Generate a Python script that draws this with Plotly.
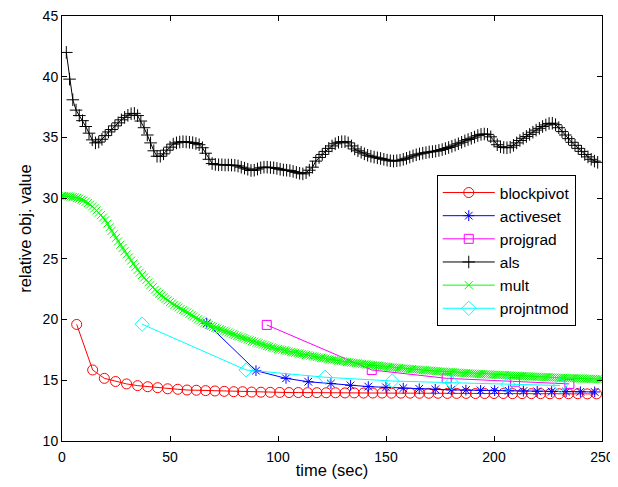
import plotly.graph_objects as go

# ---------------- data ----------------
bp_t = [6.8, 14.2, 19.6, 24.8, 29.9, 35.0, 39.7, 44.3, 48.9, 53.6, 57.9, 62.2, 66.5, 70.8, 75.1, 79.5, 83.6,
        87.8, 92.1, 96.4, 100.8, 105.1, 109.4, 113.7, 118.0, 122.3, 126.6, 131.0, 135.3, 139.6, 143.9, 148.2,
        152.5, 156.9, 161.2, 165.5, 169.8, 174.1, 178.4, 182.7, 187.1, 191.4, 195.7, 200.0, 204.3, 208.6,
        213.0, 217.3, 221.6, 225.9, 230.2, 234.5, 238.8, 243.2, 247.5]
bp_v = [19.6, 15.85, 15.16, 14.9, 14.7, 14.56, 14.47, 14.39, 14.3, 14.26, 14.2, 14.18, 14.15, 14.12, 14.09, 14.06, 14.06,
        14.03, 14.02, 14.01, 14.00, 13.99, 13.99, 13.98, 13.98, 13.97, 13.97, 13.96, 13.96, 13.95, 13.95, 13.95,
        13.94, 13.94, 13.94, 13.93, 13.93, 13.93, 13.92, 13.92, 13.92, 13.91, 13.91, 13.91, 13.91, 13.90,
        13.90, 13.90, 13.90, 13.89, 13.89, 13.89, 13.89, 13.88, 13.88]

as_t = [67.0, 89.8, 103.7, 114.0, 124.5, 133.6, 141.8, 150.0, 158.0, 165.4, 172.8, 180.2, 187.0, 193.8,
        200.3, 206.8, 213.6, 220.0, 226.7, 233.4, 240.0, 246.6]
as_v = [19.7, 15.79, 15.16, 14.88, 14.73, 14.58, 14.48, 14.42, 14.35, 14.30, 14.25, 14.21, 14.19, 14.17,
        14.15, 14.13, 14.11, 14.09, 14.07, 14.06, 14.05, 14.04]

pg_t = [94.8, 143.4, 178.1, 209.7, 234.9]
pg_v = [19.56, 15.85, 15.16, 14.88, 14.70]

pn_t = [37.1, 85.2, 121.8, 152.9, 180.5, 206.5, 230.6]
pn_v = [19.62, 15.85, 15.25, 14.94, 14.80, 14.66, 14.57]

als_v = [42.0, 39.8, 38.1, 37.25, 36.8, 36.38, 35.9, 35.35, 34.8, 34.55,
         34.62, 34.85, 35.15, 35.45, 35.65, 35.95, 36.2, 36.45, 36.65, 36.82,
         36.95, 36.98, 36.8, 36.35, 35.8, 35.2, 34.55, 33.9, 33.45, 33.45,
         33.65, 33.95, 34.2, 34.45, 34.55, 34.62, 34.65, 34.63, 34.6, 34.57,
         34.5, 34.4, 34.15, 33.7, 33.2, 32.85, 32.78, 32.75, 32.75, 32.73,
         32.73, 32.72, 32.7, 32.65, 32.55, 32.47, 32.38, 32.28, 32.3, 32.4,
         32.5, 32.55, 32.55, 32.52, 32.5, 32.45, 32.38, 32.32, 32.3, 32.27,
         32.2, 32.12, 32.05, 32.0, 32.1, 32.3, 32.55, 33.05, 33.35, 33.6,
         33.85, 34.1, 34.3, 34.48, 34.6, 34.65, 34.65, 34.55, 34.3, 34.05,
         33.9, 33.78, 33.65, 33.53, 33.45, 33.38, 33.32, 33.27, 33.2, 33.13,
         33.08, 33.05, 33.08, 33.12, 33.2, 33.28, 33.38, 33.48, 33.57, 33.64,
         33.7, 33.75, 33.8, 33.83, 33.87, 33.93, 34.0, 34.08, 34.17, 34.27,
         34.37, 34.48, 34.6, 34.72, 34.83, 34.93, 35.03, 35.15, 35.25, 35.28,
         35.25, 35.05, 34.7, 34.4, 34.23, 34.17, 34.15, 34.2, 34.35, 34.55,
         34.75, 34.93, 35.08, 35.25, 35.43, 35.6, 35.75, 35.9, 36.03, 36.15,
         36.17, 36.05, 35.8, 35.48, 35.2, 34.9, 34.6, 34.35, 34.1, 33.85,
         33.6, 33.4, 33.2, 33.05, 32.95]
als_t = [2 + 1.5 * i for i in range(len(als_v))]

mult_v = [30.18, 30.17, 30.16, 30.15, 30.13, 30.10, 30.07, 30.02, 29.96, 29.88,
          29.80, 29.71, 29.60, 29.47, 29.32, 29.16, 28.99, 28.80, 28.60, 28.40,
          28.18, 27.90, 27.60, 27.31, 27.02, 26.73, 26.44, 26.16, 25.89, 25.63,
          25.37, 25.12, 24.86, 24.60, 24.35, 24.09, 23.87, 23.66, 23.46, 23.26,
          23.06, 22.86, 22.66, 22.46, 22.29, 22.13, 21.98, 21.84, 21.71, 21.58,
          21.45, 21.33, 21.21, 21.10, 20.99, 20.88, 20.78, 20.68, 20.58, 20.48,
          20.36, 20.25, 20.14, 20.03, 19.93, 19.83, 19.73, 19.64, 19.56, 19.48,
          19.40, 19.33, 19.26, 19.20, 19.14, 19.08, 19.01, 18.94, 18.87, 18.80,
          18.73, 18.66, 18.60, 18.54, 18.48, 18.42, 18.36, 18.30, 18.24, 18.18,
          18.12, 18.06, 18.00, 17.94, 17.88, 17.82, 17.77, 17.72, 17.67, 17.62,
          17.58, 17.54, 17.50, 17.46, 17.42, 17.38, 17.34, 17.30, 17.27, 17.23,
          17.20, 17.16, 17.13, 17.09, 17.06, 17.02, 16.99, 16.95, 16.92, 16.88,
          16.85, 16.82, 16.79, 16.75, 16.72, 16.69, 16.66, 16.64, 16.61, 16.58,
          16.56, 16.53, 16.51, 16.49, 16.46, 16.44, 16.42, 16.40, 16.37, 16.35,
          16.33, 16.31, 16.29, 16.27, 16.25, 16.23, 16.21, 16.19, 16.17, 16.15,
          16.13, 16.11, 16.09, 16.07, 16.05, 16.03, 16.01, 15.99, 15.98, 15.96,
          15.95, 15.93, 15.92, 15.90, 15.89, 15.87, 15.86, 15.84, 15.83, 15.81,
          15.80, 15.79, 15.77, 15.76, 15.74, 15.73, 15.72, 15.71, 15.69, 15.68,
          15.67, 15.66, 15.65, 15.63, 15.62, 15.61, 15.60, 15.59, 15.57, 15.56,
          15.55, 15.54, 15.53, 15.52, 15.51, 15.50, 15.49, 15.48, 15.48, 15.47,
          15.46, 15.45, 15.44, 15.44, 15.43, 15.42, 15.41, 15.40, 15.39, 15.38,
          15.37, 15.36, 15.35, 15.35, 15.34, 15.33, 15.32, 15.31, 15.31, 15.30,
          15.29, 15.28, 15.27, 15.27, 15.26, 15.25, 15.24, 15.23, 15.23, 15.22,
          15.21, 15.20, 15.20, 15.19, 15.18, 15.18, 15.17, 15.17, 15.16, 15.15,
          15.15, 15.14, 15.14, 15.13, 15.13, 15.12, 15.12, 15.11, 15.10, 15.10,
          15.09]
mult_t = list(range(len(mult_v)))

x_ticks = [0, 50, 100, 150, 200, 250]
y_ticks = [10, 15, 20, 25, 30, 35, 40, 45]

# ---------------- figure ----------------
FONT = "Liberation Sans, Arial, sans-serif"
fig = go.Figure()

def add(name, x, y, color, symbol, size):
    fig.add_trace(go.Scatter(
        x=x, y=y, name=name, mode="lines+markers",
        line=dict(color=color, width=1),
        marker=dict(symbol=symbol, size=size, color=color,
                    line=dict(color=color, width=1)),
    ))

add("blockpivot", bp_t, bp_v, "#ff0000", "circle-open", 10)
add("activeset", as_t, as_v, "#0000ff", "asterisk-open", 9)
add("projgrad", pg_t, pg_v, "#ff00ff", "square-open", 9)
add("als", als_t, als_v, "#000000", "cross-thin-open", 9)
add("mult", mult_t, mult_v, "#00ff00", "x-thin-open", 8)
add("projntmod", pn_t, pn_v, "#00ffff", "diamond-open", 11)

axis_common = dict(
    showline=True, linecolor="black", linewidth=1, mirror="allticks",
    ticks="inside", ticklen=5, tickcolor="black", tickwidth=1,
    showgrid=False, zeroline=False, automargin=False,
    ticklabeloverflow="allow",
    tickfont=dict(family=FONT, size=14, color="black"),
)

# the page body has an 8px default margin; the figure is placed to account for it
fig.update_layout(
    width=610, height=471,
    margin=dict(l=54, r=16, t=8, b=38),
    paper_bgcolor="white", plot_bgcolor="white",
    font=dict(family=FONT, size=14, color="black"),
    xaxis=dict(range=[0, 250], tickvals=x_ticks, ticklabelstandoff=3,
               title=dict(text="time (sec)", font=dict(family=FONT, size=16.5), standoff=4),
               **axis_common),
    yaxis=dict(range=[10, 45], tickvals=y_ticks,
               title=dict(text="relative obj. value", font=dict(family=FONT, size=16.5), standoff=6),
               **axis_common),
    legend=dict(x=0.694, y=0.626, xanchor="left", yanchor="top",
                bgcolor="white", bordercolor="black", borderwidth=1,
                font=dict(family=FONT, size=15.5, color="black"),
                tracegroupgap=0, itemwidth=52),
    showlegend=True,
)

fig.write_html("out.html")
